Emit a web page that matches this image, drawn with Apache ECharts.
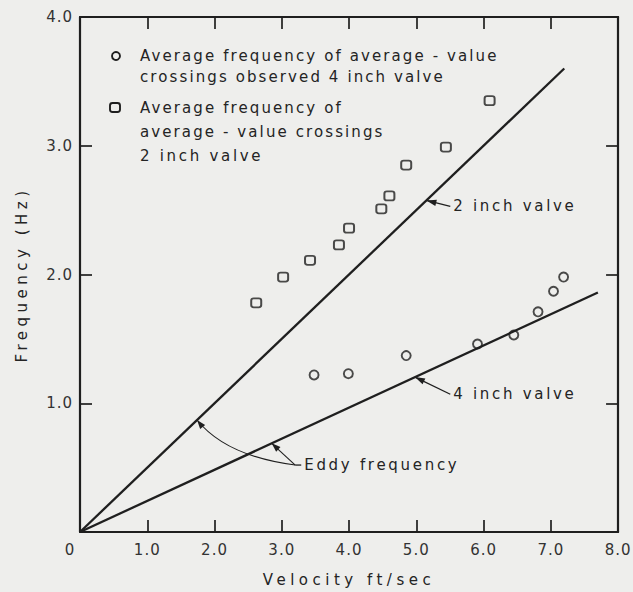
<!DOCTYPE html>
<html>
<head>
<meta charset="utf-8">
<script src="https://cdn.jsdelivr.net/npm/echarts@6/dist/echarts.min.js"></script>
<style>
  html, body { margin: 0; padding: 0; background: #eeeeec; }
  #chart { width: 633px; height: 592px; }
</style>
</head>
<body>
<div id="chart"></div>
<script>
// Axis ticks and labels
const xTickLabels = ['0', '1.0', '2.0', '3.0', '4.0', '5.0', '6.0', '7.0', '8.0'];
const yTickLabels = ['', '1.0', '2.0', '3.0', '4.0'];
const xAxisTitle = 'Velocity ft/sec';
const yAxisTitle = 'Frequency (Hz)';

// Measured average frequency of average-value crossings, 2 inch valve
const valve2Velocity = [2.62, 3.02, 3.42, 3.85, 4.00, 4.48, 4.60, 4.85, 5.44, 6.09];
const valve2Freq     = [1.78, 1.98, 2.11, 2.23, 2.36, 2.51, 2.61, 2.85, 2.99, 3.35];

// Measured average frequency of average-value crossings, 4 inch valve
const valve4Velocity = [3.48, 3.99, 4.85, 5.91, 6.45, 6.81, 7.04, 7.19];
const valve4Freq     = [1.22, 1.23, 1.37, 1.46, 1.53, 1.71, 1.87, 1.98];

// Eddy frequency lines (end points)
const eddy2Velocity = [0, 7.2];
const eddy2Freq     = [0, 3.6];
const eddy4Velocity = [0, 7.7];
const eddy4Freq     = [0, 1.86];

// Legend and annotation text
const legend4Lines = ['Average frequency of average - value', 'crossings observed 4 inch valve'];
const legend2Lines = ['Average frequency of', 'average - value crossings', '2 inch valve'];
const label2 = '2 inch valve';
const label4 = '4 inch valve';
const labelEddy = 'Eddy frequency';

const INK = '#1f1f1f';
const TEXT = '#242424';
const TICK_TEXT = '#333333';
const FONT = '"DejaVu Sans", sans-serif';

const zip = (xs, ys) => xs.map((x, i) => [x, ys[i]]);

const chart = echarts.init(document.getElementById('chart'), null, {
  renderer: 'svg', width: 633, height: 592
});

function xAxisDef(position, withLabels) {
  return {
    type: 'value', min: 0, max: 8, interval: 1, position,
    axisLine: { onZero: false, lineStyle: { color: INK, width: 2.2 } },
    axisTick: { inside: true, length: 12, lineStyle: { color: INK, width: 1.7 } },
    splitLine: { show: false },
    axisLabel: withLabels ? {
      showMinLabel: true, showMaxLabel: true, margin: 10,
      fontFamily: FONT, fontSize: 15, color: TICK_TEXT,
      formatter: v => v === 0 ? '{o|0}' : xTickLabels[v],
      rich: { o: { fontFamily: FONT, fontSize: 15, color: TICK_TEXT, padding: [0, 20, 0, 0] } }
    } : { show: false },
    name: withLabels ? xAxisTitle : '',
    nameLocation: 'middle', nameGap: 40,
    nameTextStyle: { fontFamily: FONT, fontSize: 15, color: TEXT }
  };
}

function yAxisDef(position, withLabels) {
  return {
    type: 'value', min: 0, max: 4, interval: 1, position,
    axisLine: { onZero: false, lineStyle: { color: INK, width: 2.2 } },
    axisTick: { inside: true, length: 12, lineStyle: { color: INK, width: 1.7 } },
    splitLine: { show: false },
    axisLabel: withLabels ? {
      showMinLabel: true, showMaxLabel: true, margin: 7,
      fontFamily: FONT, fontSize: 15, color: TICK_TEXT,
      formatter: v => yTickLabels[v]
    } : { show: false },
    name: withLabels ? yAxisTitle : '',
    nameLocation: 'middle', nameGap: 51, nameRotate: 90,
    nameTextStyle: { fontFamily: FONT, fontSize: 15, color: TEXT }
  };
}

const markStyle = { color: 'rgba(0,0,0,0)', borderColor: INK, borderWidth: 1.9 };

chart.setOption({
  animation: false,
  backgroundColor: '#eeeeec',
  grid: { left: 80, right: 14, top: 17, bottom: 57 },
  xAxis: [xAxisDef('bottom', true), xAxisDef('top', false)],
  yAxis: [yAxisDef('left', true), yAxisDef('right', false)],
  series: [
    {
      name: 'Eddy frequency 2 inch valve', type: 'line',
      data: zip(eddy2Velocity, eddy2Freq), showSymbol: false,
      lineStyle: { color: INK, width: 2.3 }
    },
    {
      name: 'Eddy frequency 4 inch valve', type: 'line',
      data: zip(eddy4Velocity, eddy4Freq), showSymbol: false,
      lineStyle: { color: INK, width: 2.3 }
    },
    {
      name: '2 inch valve', type: 'scatter',
      data: zip(valve2Velocity, valve2Freq),
      symbol: 'roundRect', symbolSize: [10, 9], itemStyle: markStyle
    },
    {
      name: '4 inch valve', type: 'scatter',
      data: zip(valve4Velocity, valve4Freq),
      symbol: 'circle', symbolSize: 9, itemStyle: markStyle
    }
  ]
});

// Annotations: leaders and arrowheads anchored in data space
const px = p => chart.convertToPixel({ gridIndex: 0 }, p);

function arrowHead(tip, from, len, half) {
  const dx = from[0] - tip[0], dy = from[1] - tip[1];
  const d = Math.hypot(dx, dy) || 1;
  const ux = dx / d, uy = dy / d;
  const bx = tip[0] + ux * len, by = tip[1] + uy * len;
  return {
    type: 'polygon', silent: true,
    shape: { points: [tip, [bx - uy * half, by + ux * half], [bx + uy * half, by - ux * half]] },
    style: { fill: INK }
  };
}

function textEl(str, pos, size) {
  return {
    type: 'text', silent: true,
    style: { text: str, x: pos[0], y: pos[1], font: size + 'px ' + FONT, fill: TEXT, verticalAlign: 'middle', align: 'left' }
  };
}

const graphics = [];

// 2 inch valve label with arrow
const on2 = px([5.15, 5.15 * eddy2Freq[1] / eddy2Velocity[1]]);
const txt2 = px([5.55, 2.53]);
graphics.push({ type: 'line', silent: true, shape: { x1: txt2[0] - 3, y1: txt2[1], x2: on2[0], y2: on2[1] }, style: { stroke: INK, lineWidth: 1.3 } });
graphics.push(arrowHead(on2, [txt2[0] - 3, txt2[1]], 10, 3.2));
graphics.push(textEl(label2, txt2, 15));

// 4 inch valve label with arrow
const on4 = px([4.98, 4.98 * eddy4Freq[1] / eddy4Velocity[1]]);
const txt4 = px([5.55, 1.07]);
graphics.push({ type: 'line', silent: true, shape: { x1: txt4[0] - 3, y1: txt4[1], x2: on4[0], y2: on4[1] }, style: { stroke: INK, lineWidth: 1.3 } });
graphics.push(arrowHead(on4, [txt4[0] - 3, txt4[1]], 10, 3.2));
graphics.push(textEl(label4, txt4, 15));

// Eddy frequency label with two leaders
const eddyOrigin = px([3.2, 0.52]);
const eddyOn2 = px([1.74, 1.74 * eddy2Freq[1] / eddy2Velocity[1]]);
const eddyCtrl = px([2.17, 0.59]);
const eddyOn4 = px([2.85, 2.85 * eddy4Freq[1] / eddy4Velocity[1]]);
graphics.push({
  type: 'bezierCurve', silent: true,
  shape: { x1: eddyOn2[0], y1: eddyOn2[1], x2: eddyOrigin[0], y2: eddyOrigin[1], cpx1: eddyCtrl[0], cpy1: eddyCtrl[1] },
  style: { stroke: INK, lineWidth: 1.1, fill: null }
});
graphics.push({ type: 'line', silent: true, shape: { x1: eddyOrigin[0], y1: eddyOrigin[1], x2: eddyOn4[0], y2: eddyOn4[1] }, style: { stroke: INK, lineWidth: 1.1 } });
graphics.push(arrowHead(eddyOn2, eddyCtrl, 9, 3.2));
graphics.push(arrowHead(eddyOn4, eddyOrigin, 9, 3.2));
graphics.push({ type: 'line', silent: true, shape: { x1: eddyOrigin[0], y1: eddyOrigin[1], x2: eddyOrigin[0] + 6, y2: eddyOrigin[1] }, style: { stroke: INK, lineWidth: 1.3 } });
graphics.push(textEl(labelEddy, [eddyOrigin[0] + 9, eddyOrigin[1]], 15));

// Legend block
graphics.push({ type: 'circle', silent: true, shape: { cx: 116, cy: 56, r: 4 }, style: { fill: 'none', stroke: INK, lineWidth: 1.9 } });
legend4Lines.forEach((s, i) => graphics.push(textEl(s, [140, 56 + i * 21], 15)));
graphics.push({ type: 'rect', silent: true, shape: { x: 110, y: 103, width: 10, height: 9, r: 2.5 }, style: { fill: 'none', stroke: INK, lineWidth: 1.9 } });
legend2Lines.forEach((s, i) => graphics.push(textEl(s, [140, 108 + i * 24], 15)));

chart.setOption({ graphic: graphics });

// Wide-spaced lettering per text role
const spacing = {};
[xAxisTitle, yAxisTitle].forEach(s => spacing[s] = 4.5);
legend4Lines.concat(legend2Lines).forEach(s => spacing[s] = 2.1);
[label2, label4, labelEddy].forEach(s => spacing[s] = 2.7);

function applySpacing() {
  chart.getDom().querySelectorAll('svg text').forEach(el => {
    const s = spacing[el.textContent];
    el.style.letterSpacing = (s === undefined ? 1 : s) + 'px';
  });
}
chart.on('finished', applySpacing);
applySpacing();
setTimeout(applySpacing, 0);
</script>
</body>
</html>
